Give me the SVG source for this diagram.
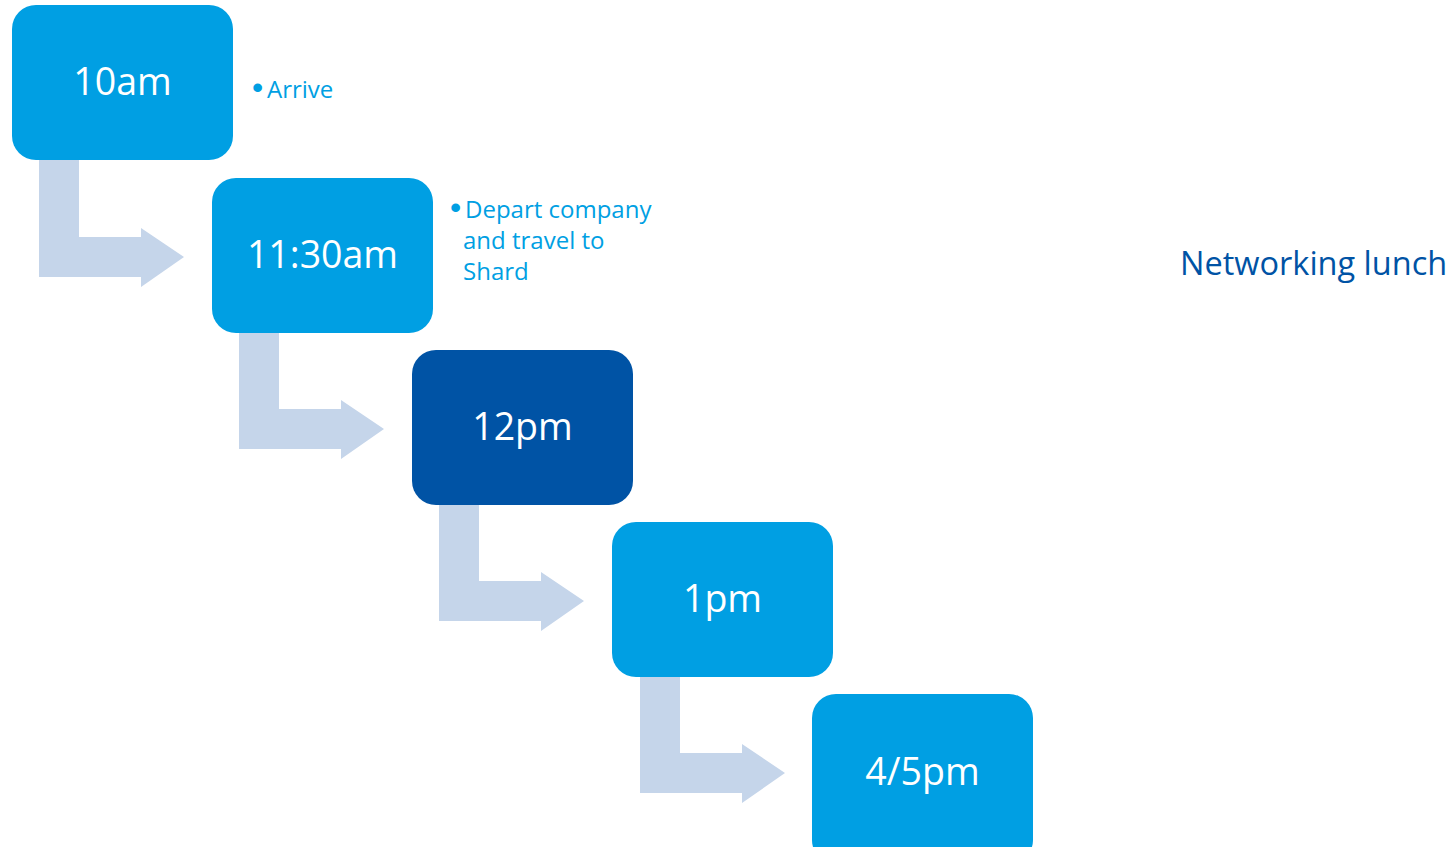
<svg xmlns="http://www.w3.org/2000/svg" width="1453" height="847" viewBox="0 0 1453 847">
<style>
.box{fill:#009fe3}
.dark{fill:#0053a5}
.lbl{font-family:"Open Sans","Noto Sans",sans-serif;font-size:37.5px;fill:#ffffff;text-anchor:middle}
.note{font-family:"Open Sans","Noto Sans",sans-serif;font-size:24px;fill:#009fe3}
.bul{font-family:"Liberation Sans",sans-serif;font-size:32px}
.arr{fill:#c5d5ea}
</style>
<defs>
<path id="bend" d="M0 0 H40 V77 H102 V68 L145 97 L102 127 V117 H0 Z"/>
</defs>
<rect width="1453" height="847" fill="#ffffff"/>
<g id="connectors" class="arr">
<use href="#bend" x="39" y="160"/>
<use href="#bend" x="239" y="332"/>
<use href="#bend" x="439" y="504"/>
<use href="#bend" x="640" y="676"/>
</g>
<g id="n1"><rect class="box" x="12" y="5" width="221" height="155" rx="24"/><text class="lbl" x="122.5" y="95">10am</text></g>
<g id="n2"><rect class="box" x="212" y="178" width="221" height="155" rx="24"/><text class="lbl" x="322.5" y="268">11:30am</text></g>
<g id="n3"><rect class="dark" x="412" y="350" width="221" height="155" rx="24"/><text class="lbl" x="522.5" y="440">12pm</text></g>
<g id="n4"><rect class="box" x="612" y="522" width="221" height="155" rx="24"/><text class="lbl" x="722.5" y="612">1pm</text></g>
<g id="n5"><rect class="box" x="812" y="694" width="221" height="170" rx="24"/><text class="lbl" x="922.5" y="785">4/5pm</text></g>
<g id="note1"><text class="note" x="252" y="98"><tspan class="bul">•</tspan><tspan x="267">Arrive</tspan></text></g>
<g id="note2"><text class="note" x="450" y="218"><tspan class="bul">•</tspan><tspan x="465">Depart company</tspan></text><text class="note" x="463" y="249">and travel to</text><text class="note" x="463" y="280">Shard</text></g>
<g id="note3"><text x="1180" y="275" style="font-family:'Open Sans','Noto Sans',sans-serif;font-size:32.5px;fill:#0053a5">Networking lunch</text></g>
</svg>
